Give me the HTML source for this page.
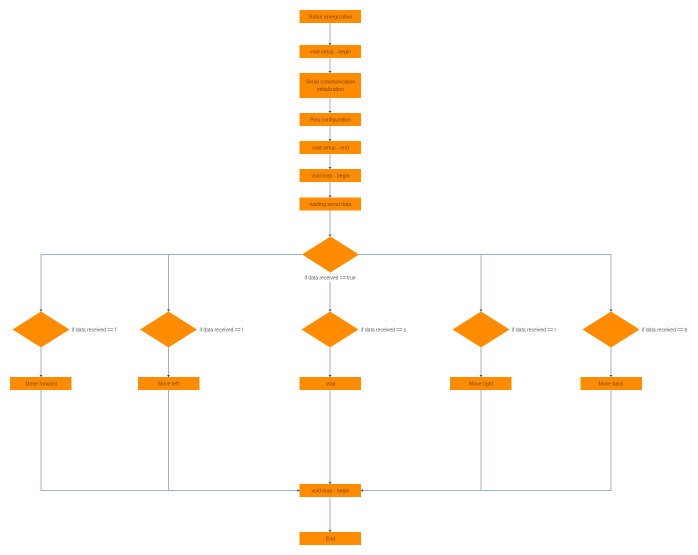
<!DOCTYPE html>
<html>
<head>
<meta charset="utf-8">
<style>
html,body{margin:0;padding:0;background:#fff;width:698px;height:555px;overflow:hidden}
svg{display:block}
text{font-family:"Liberation Sans",sans-serif;font-size:5.2px}
.n{fill:#7a4208;text-anchor:middle}
.l{fill:#555;font-size:5px}
.b{fill:#ff8c00}
.c{fill:none;stroke:#9db0c4;stroke-width:1}
.a{fill:#2a4a6e}
</style>
</head>
<body>
<svg width="698" height="555" viewBox="0 0 698 555" xmlns="http://www.w3.org/2000/svg">
<!-- connectors -->
<path class="c" d="M330 23V45M330 58V73M330 98V113M330 126V141M330 154V169M330 182V197.500M330 210.500V236.500"/>
<path class="c" d="M302 254.500H41V311.500M359 254.500H611V311.500M168.500 254.500V311.500M481 254.500V311.500M330 272.500V311.500"/>
<path class="c" d="M41 347.500V377M168.500 347.500V377M330 347.500V377M481 347.500V377M611 347.500V377"/>
<path class="c" d="M41 390V490.500H299.500M168.500 390V490.500M330 390V484M611 390V490.500H361M481 390V490.500M330 497V532"/>
<!-- arrowheads -->
<path class="a" d="M328.500 43h3L330 45zM328.500 71h3L330 73zM328.500 111h3L330 113zM328.500 139h3L330 141zM328.500 167h3L330 169zM328.500 195.500h3L330 197.500zM328.500 234.500h3L330 236.500z"/>
<path class="a" d="M39.500 309.500h3L41 311.500zM167 309.500h3L168.500 311.500zM328.500 309.500h3L330 311.500zM479.500 309.500h3L481 311.500zM609.500 309.500h3L611 311.500z"/>
<path class="a" d="M39.500 375h3L41 377zM167 375h3L168.500 377zM328.500 375h3L330 377zM479.500 375h3L481 377zM609.500 375h3L611 377z"/>
<path class="a" d="M297.500 489v3L299.500 490.500zM363 489v3L361 490.500zM328.500 482h3L330 484zM328.500 530h3L330 532z"/>
<!-- top column -->
<rect class="b" x="299.500" y="10" width="61.500" height="13"/>
<rect class="b" x="299.500" y="45" width="61.500" height="13"/>
<rect class="b" x="299.500" y="73" width="61.500" height="25"/>
<rect class="b" x="299.500" y="113" width="61.500" height="13"/>
<rect class="b" x="299.500" y="141" width="61.500" height="13"/>
<rect class="b" x="299.500" y="169" width="61.500" height="13"/>
<rect class="b" x="299.500" y="197.500" width="61.500" height="13"/>
<text class="n" x="330.500" y="18.500">Robot energization</text>
<text class="n" x="330.500" y="53.500">void setup - begin</text>
<text class="n" x="330.500" y="83.500">Serial communication</text>
<text class="n" x="330.500" y="91">initialization</text>
<text class="n" x="330.500" y="121.500">Pins configuration</text>
<text class="n" x="330.500" y="149.500">void setup - end</text>
<text class="n" x="330.500" y="177.500">void loop - begin</text>
<text class="n" x="330.500" y="206">waiting serial data</text>
<!-- main decision -->
<path class="b" d="M330.500 236.500L359 254.500L330.500 272.500L302 254.500Z"/>
<rect x="303" y="273.500" width="54" height="8" fill="#fff"/>
<text class="l" x="304.500" y="279.500">if data received == true</text>
<!-- row decisions -->
<path class="b" d="M41 311.500L69.500 329.500L41 347.500L12.500 329.500Z"/>
<path class="b" d="M168.500 311.500L197 329.500L168.500 347.500L140 329.500Z"/>
<path class="b" d="M330 311.500L358.500 329.500L330 347.500L301.500 329.500Z"/>
<path class="b" d="M481 311.500L509.500 329.500L481 347.500L452.500 329.500Z"/>
<path class="b" d="M611 311.500L639.500 329.500L611 347.500L582.500 329.500Z"/>
<text class="l" x="72" y="331.500">if data received == f</text>
<text class="l" x="199.500" y="331.500">if data received == l</text>
<text class="l" x="361" y="331.500">if data received == s</text>
<text class="l" x="512" y="331.500">if data received == r</text>
<text class="l" x="642" y="331.500">if data received == b</text>
<!-- actions -->
<rect class="b" x="10" y="377" width="61.500" height="13"/>
<rect class="b" x="138" y="377" width="61.500" height="13"/>
<rect class="b" x="299.500" y="377" width="61.500" height="13"/>
<rect class="b" x="450" y="377" width="61.500" height="13"/>
<rect class="b" x="580.500" y="377" width="61.500" height="13"/>
<text class="n" x="41" y="385.500">Move forward</text>
<text class="n" x="168.500" y="385.500">Move left</text>
<text class="n" x="330.500" y="385.500">stop</text>
<text class="n" x="481" y="385.500">Move right</text>
<text class="n" x="611" y="385.500">Move back</text>
<!-- bottom -->
<rect class="b" x="299.500" y="484" width="61.500" height="13"/>
<rect class="b" x="299.500" y="532" width="61.500" height="13"/>
<text class="n" x="330.500" y="492.500">void loop - begin</text>
<text class="n" x="330.500" y="540.500">End</text>
</svg>
</body>
</html>
